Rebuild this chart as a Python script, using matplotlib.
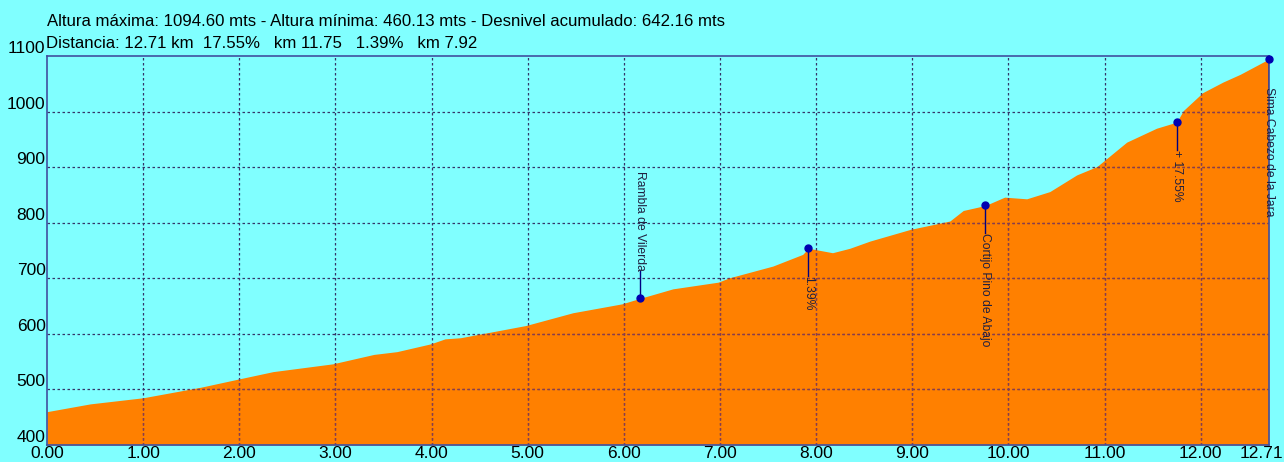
import matplotlib.pyplot as plt
import matplotlib.transforms as mtransforms

# Profile (km, metres)
dist_km = [0.00, 0.45, 1.00, 1.60, 2.00, 2.35, 2.97, 3.40, 3.64, 3.99, 4.14, 4.30,
           4.61, 4.98, 5.47, 5.98, 6.17, 6.51, 6.98, 7.10, 7.55, 7.86, 7.92, 8.17,
           8.35, 8.56, 8.98, 9.39, 9.53, 9.76, 9.96, 10.19, 10.43, 10.71, 10.92,
           11.23, 11.54, 11.75, 11.82, 12.02, 12.23, 12.41, 12.71]
altitude = [460, 474, 485, 504, 519, 532, 546, 563, 568, 582, 591, 593,
            603, 615, 638, 654, 664, 681, 693, 701, 722, 743, 754, 746,
            754, 767, 788, 803, 822, 831, 846, 843, 856, 886, 901,
            945, 970, 981, 1002, 1034, 1053, 1067, 1094.6]

# Waypoints
wp_km = [6.17, 7.92, 9.76, 11.75, 12.71]
wp_alt = [664, 754, 831, 981, 1094.6]
wp_names = ['Rambla de Vilerda', '1.39%', 'Cortijo Pino de Abajo', '+ 17.55%', 'Sima Cabezo de la Jara']
wp_above = [True, False, False, False, False]

x_ticks = [0, 1, 2, 3, 4, 5, 6, 7, 8, 9, 10, 11, 12, 12.71]
y_ticks = [400, 500, 600, 700, 800, 900, 1000, 1100]

header1 = 'Altura máxima: 1094.60 mts - Altura mínima: 460.13 mts - Desnivel acumulado: 642.16 mts'
header2 = 'Distancia: 12.71 km  17.55%   km 11.75   1.39%   km 7.92'

plt.rcParams['font.family'] = ['Liberation Sans', 'DejaVu Sans']
bg = '#80FFFF'
fig = plt.figure(figsize=(12.84, 4.62), dpi=100, facecolor=bg)
ax = fig.add_axes([47 / 1284, 1 - 445 / 462, 1222 / 1284, 389 / 462])
ax.set_facecolor(bg)

poly = ax.fill_between(dist_km, altitude, 400, color='#FF8000', lw=0, zorder=1)

ax.set_xlim(0, 12.71)
ax.set_ylim(400, 1100)
ax.set_xticks(x_ticks)
ax.set_xticklabels([f'{t:.2f}' for t in x_ticks], fontsize=12.5)
ax.set_yticks(y_ticks)
ax.set_yticklabels([str(t) for t in y_ticks], fontsize=12.5)
ax.tick_params(length=0, pad=1)
for lbl in ax.get_yticklabels():
    lbl.set_verticalalignment('bottom')
for lbl in ax.get_xticklabels():
    lbl.set_verticalalignment('top')
# last distance label pulled in so it stays on the canvas
last = ax.get_xticklabels()[-1]
last.set_transform(last.get_transform() + mtransforms.ScaledTranslation(-8 / 100, 0, fig.dpi_scale_trans))

# grid: dark blue over the sky, reddish over the terrain
grid_style = dict(linestyles=(0, (2, 2)), linewidth=0.9)
ax.vlines(x_ticks[1:-1], 400, 1100, colors='#353568', zorder=2, **grid_style)
ax.hlines(y_ticks[1:-1], 0, 12.71, colors='#353568', zorder=2, **grid_style)
vr = ax.vlines(x_ticks[1:-1], 400, 1100, colors='#8A3A50', zorder=2.1, **grid_style)
hr = ax.hlines(y_ticks[1:-1], 0, 12.71, colors='#8A3A50', zorder=2.1, **grid_style)
for c in (vr, hr):
    c.set_clip_path(poly.get_paths()[0], ax.transData)

for s in ax.spines.values():
    s.set_color('#4050A0')
    s.set_linewidth(1.2)

# Waypoint markers, stems and labels
stem = 50
for km, alt, name, above in zip(wp_km, wp_alt, wp_names, wp_above):
    if above:
        end = alt + stem
        ax.plot([km, km], [alt, end], color='#000080', lw=1, zorder=3)
        ax.text(km, end, name, rotation=270, ha='center', va='bottom', fontsize=8.7,
                color='#202040', zorder=4)
    else:
        end = alt - stem
        ax.plot([km, km], [alt, end], color='#000080', lw=1, zorder=3)
        ax.text(km, end, name, rotation=270, ha='center', va='top', fontsize=8.7,
                color='#202040', zorder=4, clip_on=False)
    ax.plot(km, alt, 'o', color='#0000B0', ms=5, zorder=5, clip_on=False)

fig.text(47 / 1284, 1 - 21 / 462, header1, fontsize=12.1, va='center', ha='left')
fig.text(46 / 1284, 1 - 43 / 462, header2, fontsize=12.1, va='center', ha='left')

fig.savefig('out.png', dpi=100, facecolor=bg)
